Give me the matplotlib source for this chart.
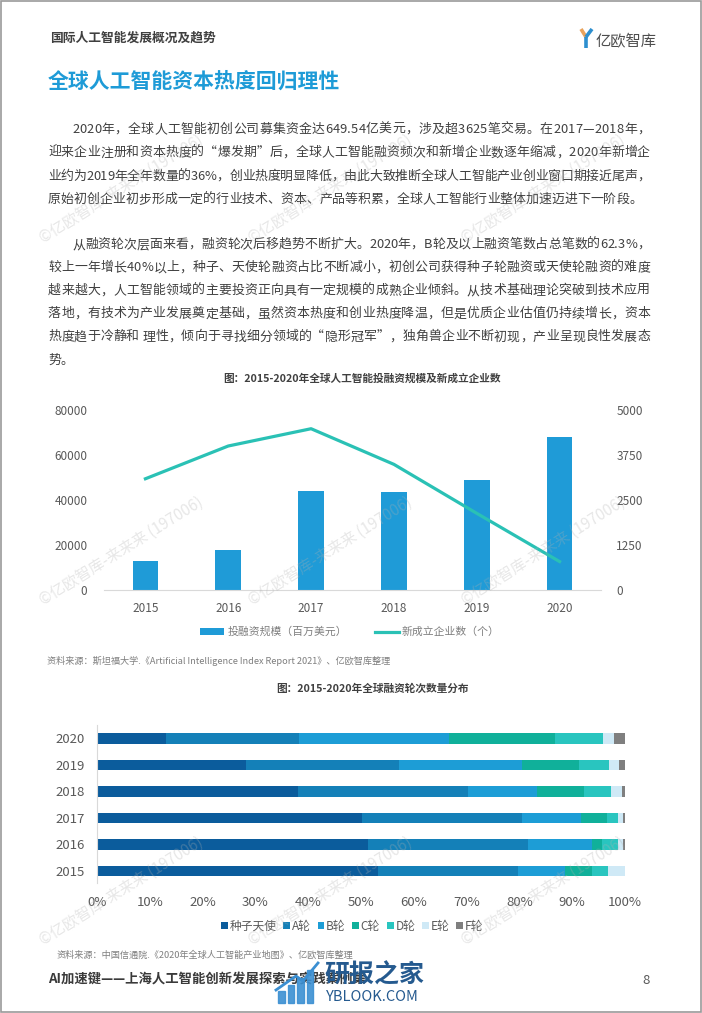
import numpy as np
import matplotlib
matplotlib.use('Agg')
import matplotlib.pyplot as plt
from matplotlib.patches import Rectangle
from matplotlib.font_manager import findfont, FontProperties
from matplotlib.ft2font import FT2Font

plt.rcParams['font.family'] = ['Noto Sans CJK SC', 'DejaVu Sans']

# ---------------- data ----------------
years1 = ['2015', '2016', '2017', '2018', '2019', '2020']
invest = [12750, 17600, 44000, 43600, 48800, 67900]   # 投融资规模（百万美元）
new_cos = [3090, 4000, 4480, 3490, 2130, 790]          # 新成立企业数（个）
left_ticks = [0, 20000, 40000, 60000, 80000]
right_ticks = [0, 1250, 2500, 3750, 5000]

years2 = ['2015', '2016', '2017', '2018', '2019', '2020']
rounds = ['种子天使', 'A轮', 'B轮', 'C轮', 'D轮', 'E轮', 'F轮']
seed = [53.3, 51.3, 50.2, 38.1, 28.2, 13.1]
round_a = [26.4, 30.4, 30.3, 32.1, 29.0, 25.2]
round_b = [9.0, 12.1, 11.1, 13.1, 23.2, 28.3]
round_c = [5.1, 1.9, 4.9, 9.0, 10.9, 20.2]
round_d = [3.0, 3.0, 2.1, 5.1, 5.6, 9.1]
round_e = [3.2, 1.0, 1.0, 2.0, 2.0, 2.0]
round_f = [0.0, 0.3, 0.4, 0.6, 1.1, 2.1]
pct_ticks = list(range(0, 101, 10))

para1 = [
    '2020年，全球人工智能初创公司募集资金达649.54亿美元，涉及超3625笔交易。在2017—2018年，',
    '迎来企业注册和资本热度的“爆发期”后，全球人工智能融资频次和新增企业数逐年缩减，2020年新增企',
    '业约为2019年全年数量的36%，创业热度明显降低，由此大致推断全球人工智能产业创业窗口期接近尾声，',
    '原始初创企业初步形成一定的行业技术、资本、产品等积累，全球人工智能行业整体加速迈进下一阶段。',
]
para2 = [
    '从融资轮次层面来看，融资轮次后移趋势不断扩大。2020年，B轮及以上融资笔数占总笔数的62.3%，',
    '较上一年增长40%以上，种子、天使轮融资占比不断减小，初创公司获得种子轮融资或天使轮融资的难度',
    '越来越大，人工智能领域的主要投资正向具有一定规模的成熟企业倾斜。从技术基础理论突破到技术应用',
    '落地，有技术为产业发展奠定基础，虽然资本热度和创业热度降温，但是优质企业估值仍持续增长，资本',
    '热度趋于冷静和 理性，倾向于寻找细分领域的“隐形冠军”，独角兽企业不断初现，产业呈现良性发展态',
    '势。',
]

# ---------------- figure ----------------
W, H = 702, 1013
fig = plt.figure(figsize=(W / 100, H / 100), dpi=100)
fig.patch.set_facecolor('white')

bg = fig.add_axes([0, 0, 1, 1])
bg.set_xlim(0, W)
bg.set_ylim(H, 0)
bg.axis('off')
bg.add_patch(Rectangle((1, 1), W - 2, H - 2, fill=False, ec='#9a9a9a', lw=1.2))

# header
bg.text(50, 38, '国际人工智能发展概况及趋势', fontsize=9.2, fontweight='bold',
        color='#404040', va='center')
bg.plot([581, 586], [29, 37], color='#e9a35c', lw=2.6, solid_capstyle='butt')
bg.plot([586, 586], [37, 48], color='#2d8fcf', lw=2.6, solid_capstyle='butt')
bg.plot([586, 592], [37, 29], color='#2d8fcf', lw=2.6, solid_capstyle='butt')
bg.text(596, 41, '亿欧智库', fontsize=11, color='#4d4d4d', va='center')
bg.text(48, 81, '全球人工智能资本热度回归理性', fontsize=15, fontweight='bold',
        color='#1e9bd7', va='center')

# body text, justified char by char
BODY_PT = 9.3
body_ft = FT2Font(findfont(FontProperties(family='Noto Sans CJK SC')))
body_ft.set_size(BODY_PT, 100)


def body_line(s, x0, y, x1=None):
    widths = [body_ft.load_char(ord(c)).linearHoriAdvance / 65536 for c in s]
    gap = 0
    if x1 is not None and len(s) > 1:
        gap = (x1 - x0 - sum(widths)) / (len(s) - 1)
    x = x0
    for c, w in zip(s, widths):
        bg.text(x, y, c, fontsize=BODY_PT, color='#404040', va='baseline', ha='left')
        x += w + gap


for i, line in enumerate(para1):
    x0 = 72 if i == 0 else 48
    x1 = 650 if i < len(para1) - 1 else None
    body_line(line, x0, 133 + i * 23.3, x1)
for i, line in enumerate(para2):
    x0 = 72 if i == 0 else 48
    x1 = 650 if i < len(para2) - 1 else None
    body_line(line, x0, 248 + i * 23.1, x1)

# ---------------- chart 1 ----------------
bg.text(362, 379, '图：2015-2020年全球人工智能投融资规模及新成立企业数', fontsize=7.7,
        fontweight='bold', color='#404040', ha='center', va='center')

ax1 = fig.add_axes([104 / W, 1 - 590 / H, 497 / W, 180 / H])
x = np.arange(len(years1))
bars = ax1.bar(x, invest, width=0.31, color='#1f9bd7', zorder=2)
ax1.set_xlim(-0.5, len(years1) - 0.5)
ax1.set_ylim(0, 80000)
ax1.set_yticks(left_ticks)
ax1.set_yticklabels([str(v) for v in left_ticks])
ax1.set_xticks(x)
ax1.set_xticklabels(years1)
for s in ['top', 'left', 'right']:
    ax1.spines[s].set_visible(False)
ax1.spines['bottom'].set_color('#d9d9d9')
ax1.tick_params(length=0, labelsize=8.5, labelcolor='#595959')
ax1.tick_params(axis='x', pad=9)
ax1.tick_params(axis='y', pad=12)
ax1.patch.set_alpha(0)

ax1r = ax1.twinx()
line, = ax1r.plot(x, new_cos, color='#2ac1b5', lw=2.3, zorder=3)
ax1r.set_ylim(0, 5000)
ax1r.set_yticks(right_ticks)
ax1r.set_yticklabels([str(v) for v in right_ticks])
for s in ax1r.spines.values():
    s.set_visible(False)
ax1r.tick_params(length=0, labelsize=8.5, labelcolor='#595959', pad=11)

fig.legend([bars, line], ['投融资规模（百万美元）', '新成立企业数（个）'], loc='center',
           bbox_to_anchor=(350 / W, 1 - 632 / H), ncol=2, frameon=False, fontsize=7.8,
           labelcolor='#7f7f7f', handlelength=2.2, handleheight=0.55,
           handletextpad=0.3, columnspacing=2.6)

bg.text(47, 661, '资料来源：斯坦福大学.《Artificial Intelligence Index Report 2021》、亿欧智库整理',
        fontsize=6.6, color='#7f7f7f', va='center')

# ---------------- chart 2 ----------------
bg.text(372, 689, '图：2015-2020年全球融资轮次数量分布', fontsize=7.7, fontweight='bold',
        color='#404040', ha='center', va='center')

ax2 = fig.add_axes([97 / W, 1 - 883 / H, 528 / W, 158 / H])
yidx = np.arange(len(years2))
shares = [seed, round_a, round_b, round_c, round_d, round_e, round_f]
round_colors = ['#0b5c9c', '#1480b8', '#1d9dd6', '#10b09a', '#29c5bf', '#cfe9f6', '#7f7f7f']
left = np.zeros(len(years2))
for name, vals, col in zip(rounds, shares, round_colors):
    ax2.barh(yidx, vals, left=left, height=0.4, color=col, label=name, zorder=2)
    left += np.array(vals)
ax2.set_xlim(0, 100)
ax2.set_ylim(-0.45, 5.5)
ax2.set_yticks(yidx)
ax2.set_yticklabels(years2)
ax2.set_xticks(pct_ticks)
ax2.set_xticklabels([f'{v}%' for v in pct_ticks])
for s in ['top', 'bottom', 'right']:
    ax2.spines[s].set_visible(False)
ax2.spines['left'].set_color('#d9d9d9')
ax2.tick_params(length=0, labelsize=9.5, labelcolor='#595959')
ax2.tick_params(axis='x', pad=9)
ax2.tick_params(axis='y', pad=9)
ax2.patch.set_alpha(0)

h, l = ax2.get_legend_handles_labels()
fig.legend(h, l, loc='center', bbox_to_anchor=(352 / W, 1 - 926 / H), ncol=7,
           frameon=False, fontsize=8.5, labelcolor='#595959', handlelength=0.55,
           handleheight=0.55, handletextpad=0.15, columnspacing=0.6)

bg.text(57, 955, '资料来源：中国信通院.《2020年全球人工智能产业地图》、亿欧智库整理',
        fontsize=6.6, color='#7f7f7f', va='center')

# footer
bg.text(48, 980, 'AI加速键——上海人工智能创新发展探索与实践案例集', fontsize=9.6,
        fontweight='bold', color='#3a3a3a', va='center')
bg.text(642, 980, '8', fontsize=9.5, color='#595959', va='center')

# overlay watermarks
wm = fig.add_axes([0, 0, 1, 1], zorder=10)
wm.set_xlim(0, W)
wm.set_ylim(H, 0)
wm.axis('off')
for wy in [243, 605, 945]:
    for wx in [43, 252, 465]:
        wm.text(wx, wy, '©亿欧智库-来来来 (197006)', fontsize=11, color='#b0b0b0',
                alpha=0.3, rotation=32, rotation_mode='anchor', ha='left', va='baseline')
for k, bh in enumerate([12, 18, 25, 33]):
    wm.add_patch(Rectangle((278 + k * 9.5, 1003 - bh), 6.5, bh, color='#3b8fd2', alpha=0.9))
wm.plot([276, 296, 303, 318], [990, 976, 981, 963], color='#3b8fd2', lw=2)
wm.text(324, 975, '研报之家', fontsize=18, fontweight='bold', color='#255a8f', va='center')
wm.text(326, 997, 'YBLOOK.COM', fontsize=10.5, color='#255a8f', va='center')

fig.savefig('out.png', dpi=100)
